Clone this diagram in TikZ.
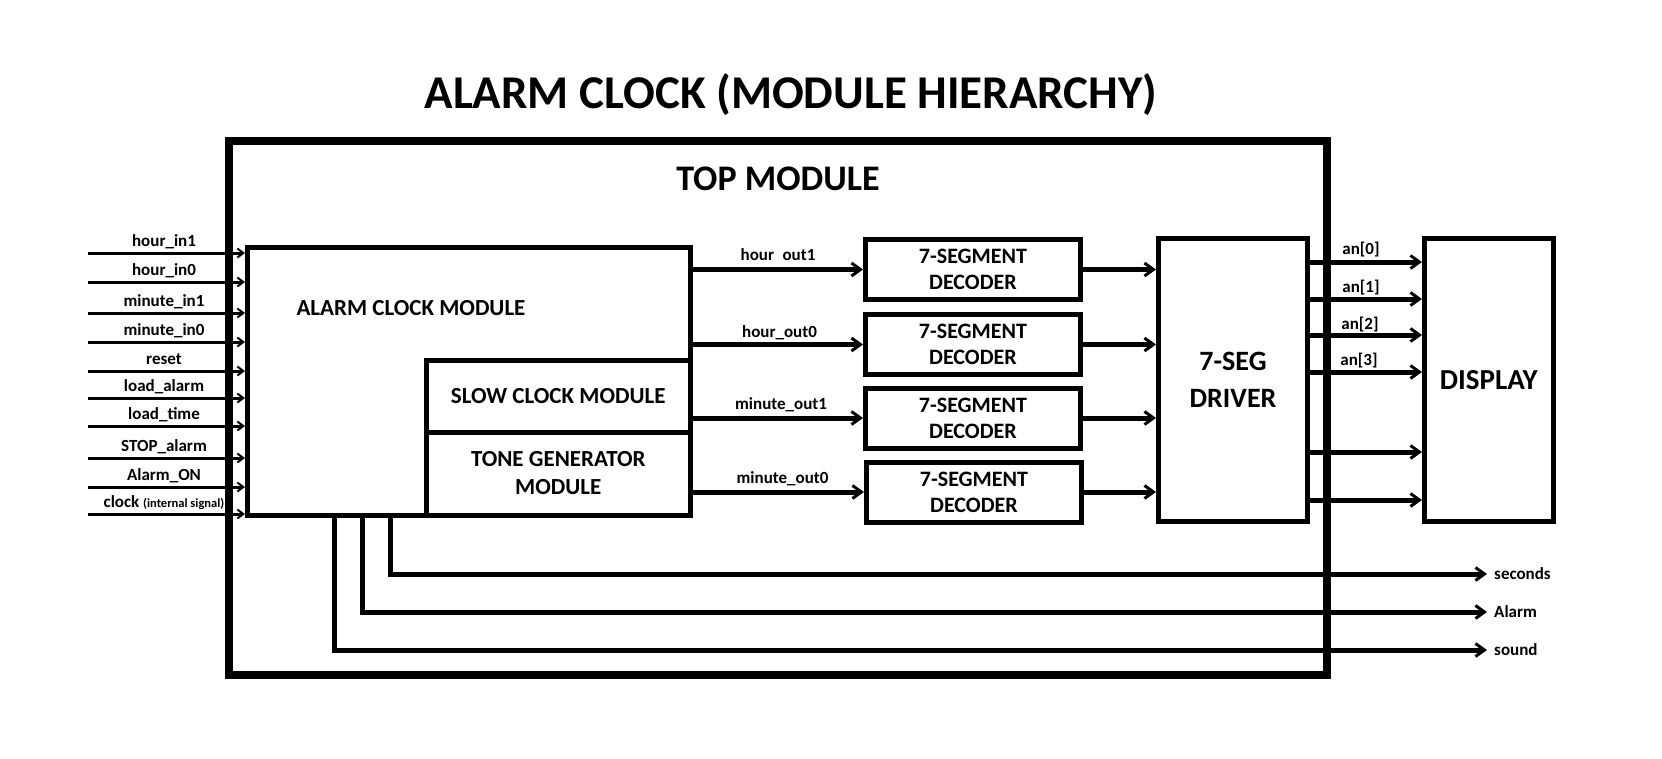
\documentclass[tikz,border=0pt]{standalone}
\usepackage{fontspec}
\setmainfont{Carlito}
\usetikzlibrary{arrows.meta}
\begin{document}
\begin{tikzpicture}[x=1pt,y=-1pt,
  box/.style={draw, line width=5pt, rectangle, inner sep=0pt, align=center},
  dec/.style={box, minimum width=215pt, minimum height=60pt, font=\fontsize{22}{26}\selectfont\bfseries},
  arr/.style={line width=5pt, -{Straight Barb[length=9pt,width=13pt,line width=3pt]}},
  inarr/.style={line width=3pt, -{Straight Barb[length=6pt,width=9pt,line width=2pt]}},
  lbl/.style={font=\fontsize{17}{20}\selectfont\bfseries, inner sep=0pt, anchor=base},
  outlbl/.style={font=\fontsize{17}{20}\selectfont\bfseries, inner ysep=0pt, inner xsep=7pt, anchor=west},
]
\fill[white] (0,0) rectangle (1662,758);
\useasboundingbox (0,0) rectangle (1662,758);

% titles
\node[lbl, font=\fontsize{47}{56}\selectfont\bfseries] (title) at (791,108) {ALARM CLOCK (MODULE HIERARCHY)};
\node[draw, line width=8pt, minimum width=1098pt, minimum height=534pt, inner sep=0pt] (top) at (778,408) {};
\node[lbl, font=\fontsize{36}{40}\selectfont\bfseries] (toplbl) at (778,190) {TOP MODULE};

% alarm clock module and sub-modules
\node[box, minimum width=442.5pt, minimum height=267.5pt] (alarm) at (468.75,381.25) {};
\node[lbl, font=\fontsize{23}{26}\selectfont\bfseries] (alarmlbl) at (411,315) {ALARM CLOCK MODULE};
\node[box, minimum width=263.5pt, minimum height=71.5pt, font=\fontsize{23}{28}\selectfont\bfseries] (slow) at (558.25,396.25) {SLOW CLOCK MODULE};
\node[box, minimum width=263.5pt, minimum height=83pt, font=\fontsize{23}{28}\selectfont\bfseries] (tone) at (558.25,473.5) {TONE GENERATOR\\MODULE};

% decoders
\node[dec] (d1) at (973,269.5) {7-SEGMENT\\DECODER};
\node[dec] (d2) at (973,344.5) {7-SEGMENT\\DECODER};
\node[dec] (d3) at (973,418) {7-SEGMENT\\DECODER};
\node[dec] (d4) at (974,492) {7-SEGMENT\\DECODER};

% driver and display
\node[box, minimum width=149pt, minimum height=283pt, font=\fontsize{28}{37}\selectfont\bfseries] (drv) at (1233,380) {7-SEG\\DRIVER};
\node[box, minimum width=128.5pt, minimum height=283pt, font=\fontsize{29}{34}\selectfont\bfseries] (disp) at (1488.75,380) {DISPLAY};

% inputs
\foreach \y/\t [count=\i] in {253/hour\_in1, 282/hour\_in0, 313/minute\_in1, 342/minute\_in0, 371/reset, 398/load\_alarm, 426/load\_time, 458/STOP\_alarm, 487/Alarm\_ON}{
  \coordinate (in\i) at (88,\y);
  \draw[inarr] (in\i) -- (alarm.west |- in\i);
  \node[lbl] (inl\i) at (164,\y-6.5) {\t};
}
\coordinate (in10) at (88,514);
\draw[inarr] (in10) -- (alarm.west |- in10);
\node[lbl] (inl10) at (164,507.5) {clock {\fontsize{12.5}{14}\selectfont (internal signal)}};

% alarm module -> decoders
\draw[arr] (alarm.east |- d1) -- (d1.west);
\draw[arr] (alarm.east |- d2) -- (d2.west);
\draw[arr] (alarm.east |- d3) -- (d3.west);
\draw[arr] (alarm.east |- d4) -- (d4.west);
\node[lbl] (lo1) at (778,260) {hour\phantom{\_}out1};
\node[lbl] (lo2) at (779.5,337) {hour\_out0};
\node[lbl] (lo3) at (781,409) {minute\_out1};
\node[lbl] (lo4) at (782.5,483) {minute\_out0};

% decoders -> driver
\draw[arr] (d1.east) -- (drv.west |- d1);
\draw[arr] (d2.east) -- (drv.west |- d2);
\draw[arr] (d3.east) -- (drv.west |- d3);
\draw[arr] (d4.east) -- (drv.west |- d4);

% driver -> display
\foreach \y [count=\i] in {262,299,335,372,452,500}{
  \coordinate (an\i) at (1400,\y);
  \draw[arr] (drv.east |- an\i) -- (disp.west |- an\i);
}
\node[lbl] (anl0) at (1361,254) {an[0]};
\node[lbl] (anl1) at (1361,292) {an[1]};
\node[lbl] (anl2) at (1360,329) {an[2]};
\node[lbl] (anl3) at (1359,365) {an[3]};

% bottom outputs
\node[outlbl] (sec) at (1487,574) {seconds};
\node[outlbl] (alm) at (1487,612) {Alarm};
\node[outlbl] (snd) at (1487,650) {sound};
\draw[arr] ([xshift=145.5pt]alarm.south west) |- (sec.west);
\draw[arr] ([xshift=117.5pt]alarm.south west) |- (alm.west);
\draw[arr] ([xshift=89.5pt]alarm.south west) |- (snd.west);
\end{tikzpicture}
\end{document}
